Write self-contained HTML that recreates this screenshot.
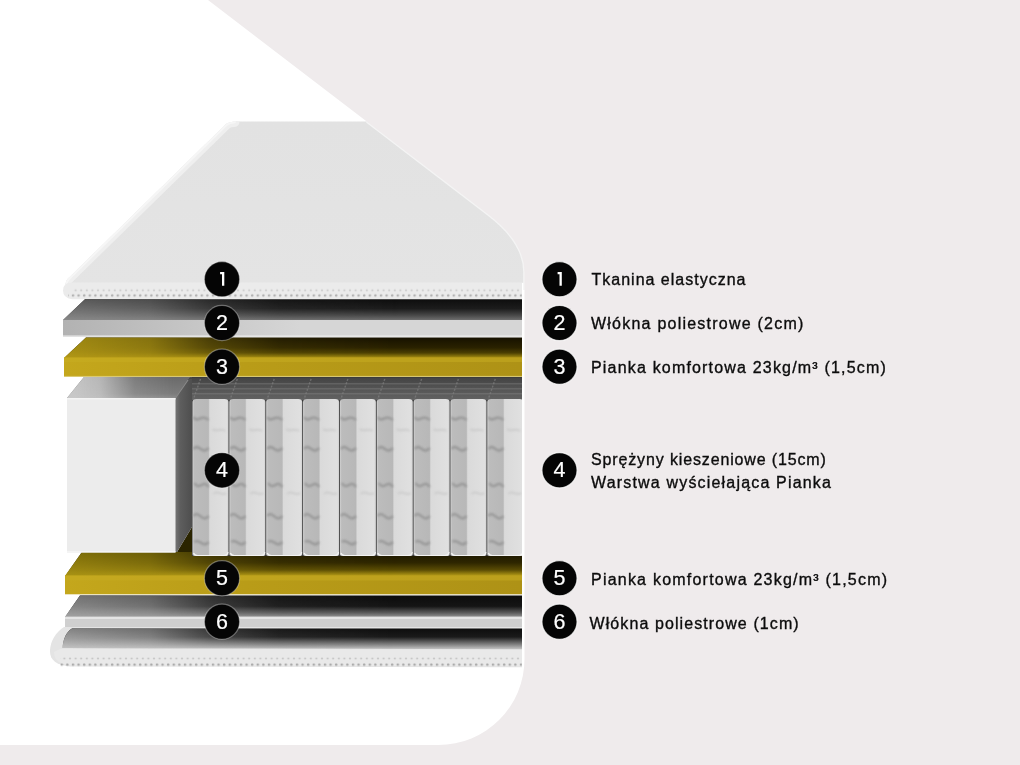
<!DOCTYPE html>
<html><head><meta charset="utf-8">
<style>
html,body{margin:0;padding:0;background:#fff;}
body{width:1020px;height:765px;overflow:hidden;}
svg{display:block;will-change:transform;}
.lbl{font-family:"Liberation Sans",sans-serif;font-size:16px;fill:#0c0c0c;stroke:#0c0c0c;stroke-width:0.35px;}
.num{font-family:"Liberation Sans",sans-serif;font-size:21.5px;fill:#fff;stroke:#fff;stroke-width:0.2px;text-anchor:middle;}
</style></head><body>
<svg width="1020" height="765" viewBox="0 0 1020 765">
<defs>
  <linearGradient id="fadeA" gradientUnits="userSpaceOnUse" x1="63" y1="0" x2="400" y2="0">
    <stop offset="0" stop-color="#fff"/><stop offset="0.26" stop-color="#fff" stop-opacity="0.8"/><stop offset="0.44" stop-color="#fff" stop-opacity="0.35"/><stop offset="0.64" stop-color="#fff" stop-opacity="0.1"/><stop offset="1" stop-color="#fff" stop-opacity="0"/>
  </linearGradient>
  <mask id="mA" maskUnits="userSpaceOnUse" x="0" y="0" width="1020" height="765">
    <rect x="0" y="0" width="1020" height="765" fill="url(#fadeA)"/>
  </mask>
  <linearGradient id="fadeB" gradientUnits="userSpaceOnUse" x1="75" y1="0" x2="175" y2="0">
    <stop offset="0" stop-color="#fff"/><stop offset="0.25" stop-color="#fff" stop-opacity="0.85"/><stop offset="0.6" stop-color="#fff" stop-opacity="0.2"/><stop offset="1" stop-color="#fff" stop-opacity="0"/>
  </linearGradient>
  <mask id="mB" maskUnits="userSpaceOnUse" x="0" y="0" width="1020" height="765">
    <rect x="0" y="0" width="1020" height="765" fill="url(#fadeB)"/>
  </mask>

  <linearGradient id="l1top" x1="0" y1="0" x2="0" y2="1">
    <stop offset="0" stop-color="#e2e2e2"/><stop offset="1" stop-color="#e4e4e4"/>
  </linearGradient>
  <linearGradient id="l2dark" x1="0" y1="0" x2="0" y2="1">
    <stop offset="0" stop-color="#0e0e0e"/><stop offset="0.45" stop-color="#1c1c1c"/><stop offset="0.8" stop-color="#4c4c4c"/><stop offset="1" stop-color="#6e6e6e"/>
  </linearGradient>
  <linearGradient id="l2light" x1="0" y1="0" x2="0" y2="1">
    <stop offset="0" stop-color="#5c5c5c"/><stop offset="1" stop-color="#888"/>
  </linearGradient>
  <linearGradient id="l2front" gradientUnits="userSpaceOnUse" x1="63" y1="0" x2="300" y2="0">
    <stop offset="0" stop-color="#b2b2b2"/><stop offset="1" stop-color="#d6d6d6"/>
  </linearGradient>
  <linearGradient id="l3dark" x1="0" y1="0" x2="0" y2="1">
    <stop offset="0" stop-color="#161100"/><stop offset="0.5" stop-color="#2a2200"/><stop offset="0.75" stop-color="#4a3e02"/><stop offset="0.92" stop-color="#8a760c"/><stop offset="1" stop-color="#b09616"/>
  </linearGradient>
  <linearGradient id="l3light" x1="0" y1="0" x2="0" y2="1">
    <stop offset="0" stop-color="#a08a12"/><stop offset="0.6" stop-color="#a89014"/><stop offset="1" stop-color="#b09616"/>
  </linearGradient>
  <linearGradient id="l5dark" x1="0" y1="0" x2="0" y2="1">
    <stop offset="0" stop-color="#1a1500"/><stop offset="0.45" stop-color="#2e2600"/><stop offset="0.75" stop-color="#5a4c04"/><stop offset="0.92" stop-color="#9a8410"/><stop offset="1" stop-color="#b89e1a"/>
  </linearGradient>
  <linearGradient id="l5light" x1="0" y1="0" x2="0" y2="1">
    <stop offset="0" stop-color="#807008"/><stop offset="0.6" stop-color="#968210"/><stop offset="1" stop-color="#a89214"/>
  </linearGradient>
  <linearGradient id="l6dark" x1="0" y1="0" x2="0" y2="1">
    <stop offset="0" stop-color="#0c0c0c"/><stop offset="0.5" stop-color="#151515"/><stop offset="0.8" stop-color="#5a5a5a"/><stop offset="1" stop-color="#929292"/>
  </linearGradient>
  <linearGradient id="l6light" x1="0" y1="0" x2="0" y2="1">
    <stop offset="0" stop-color="#767676"/><stop offset="0.5" stop-color="#888"/><stop offset="1" stop-color="#a2a2a2"/>
  </linearGradient>
  <linearGradient id="l7dark" x1="0" y1="0" x2="0" y2="1">
    <stop offset="0" stop-color="#0e0e0e"/><stop offset="0.4" stop-color="#1a1a1a"/><stop offset="0.75" stop-color="#7e7e7e"/><stop offset="1" stop-color="#c8c8c8"/>
  </linearGradient>
  <linearGradient id="l7light" x1="0" y1="0" x2="0" y2="1">
    <stop offset="0" stop-color="#848484"/><stop offset="0.5" stop-color="#a0a0a0"/><stop offset="1" stop-color="#c6c6c6"/>
  </linearGradient>
  <linearGradient id="fbtop" x1="0" y1="0" x2="0" y2="1">
    <stop offset="0" stop-color="#6a6a6a"/><stop offset="0.8" stop-color="#7c7c7c"/><stop offset="1" stop-color="#8e8e8e"/>
  </linearGradient>
  <linearGradient id="fbtopl" x1="0" y1="0" x2="0" y2="1">
    <stop offset="0" stop-color="#c4c4c4"/><stop offset="1" stop-color="#c8c8c8"/>
  </linearGradient>
  <linearGradient id="fbside" gradientUnits="userSpaceOnUse" x1="175" y1="0" x2="192" y2="0">
    <stop offset="0" stop-color="#767676"/><stop offset="0.3" stop-color="#5e5e5e"/><stop offset="1" stop-color="#4e4e4e"/>
  </linearGradient>
  <linearGradient id="sptop" x1="0" y1="0" x2="0" y2="1">
    <stop offset="0" stop-color="#444"/><stop offset="0.5" stop-color="#555"/><stop offset="1" stop-color="#626262"/>
  </linearGradient>
  <linearGradient id="spring" x1="0" y1="0" x2="1" y2="0">
    <stop offset="0" stop-color="#d2d2d2"/><stop offset="0.05" stop-color="#bcbcbc"/><stop offset="0.44" stop-color="#b8b8b8"/><stop offset="0.48" stop-color="#dadada"/><stop offset="0.95" stop-color="#e0e0e0"/><stop offset="1" stop-color="#d0d0d0"/>
  </linearGradient>
  <pattern id="dots" x="0" y="0" width="5.6" height="5.2" patternUnits="userSpaceOnUse">
    <circle cx="1.5" cy="1.2" r="1.1" fill="#b4b4b4"/>
    <circle cx="4.3" cy="3.8" r="1.2" fill="#a0a0a0"/>
  </pattern>
  <pattern id="dots2" x="0" y="0" width="5.6" height="5" patternUnits="userSpaceOnUse">
    <circle cx="2" cy="3" r="1" fill="#a4a4a4" opacity="0.7"/>
  </pattern>
  <pattern id="dotrowA" x="0" y="288.8" width="5.6" height="3" patternUnits="userSpaceOnUse">
    <ellipse cx="2.8" cy="1.4" rx="1.1" ry="1" fill="#b8b8b8" opacity="0.6"/>
  </pattern>
  <pattern id="dotrowB" x="0" y="293.8" width="5.6" height="3.4" patternUnits="userSpaceOnUse">
    <ellipse cx="0.2" cy="1.7" rx="1.3" ry="1.2" fill="#a2a2a2" opacity="0.8"/>
    <ellipse cx="5.8" cy="1.7" rx="1.3" ry="1.2" fill="#a2a2a2" opacity="0.8"/>
  </pattern>
  <pattern id="dotrowC" x="0" y="657" width="5.6" height="3" patternUnits="userSpaceOnUse">
    <ellipse cx="2.8" cy="1.5" rx="1.1" ry="1" fill="#b0b0b0" opacity="0.6"/>
  </pattern>
  <pattern id="dotrowD" x="0" y="663" width="5.6" height="3.4" patternUnits="userSpaceOnUse">
    <ellipse cx="0.2" cy="1.6" rx="1.3" ry="1.1" fill="#9a9a9a" opacity="0.8"/>
    <ellipse cx="5.8" cy="1.6" rx="1.3" ry="1.1" fill="#9a9a9a" opacity="0.8"/>
  </pattern>
  <linearGradient id="yel" gradientUnits="userSpaceOnUse" x1="64" y1="0" x2="520" y2="0">
    <stop offset="0" stop-color="#c4a71c"/><stop offset="0.4" stop-color="#b99c18"/><stop offset="1" stop-color="#ae9216"/>
  </linearGradient>
  <filter id="bl1" x="-20%" y="-20%" width="140%" height="140%"><feGaussianBlur stdDeviation="0.9"/></filter>
  <symbol id="col" overflow="visible">
    <path d="M0,3 Q0,0 4,0 L32,0 Q36,0 36,3 L36,155 Q36,157 33,157 L3,157 Q0,157 0,155 Z" fill="url(#spring)"/>
    <path d="M1,18 C5,25 9,14 16,21 M1,50 C6,43 10,57 16,49 M2,84 C7,93 11,79 16,88 M1,117 C6,110 10,125 16,117 M2,143 C6,138 11,150 16,143" stroke="#8c8c8c" stroke-width="2.4" fill="none" opacity="0.75" filter="url(#bl1)"/>
    <path d="M20,30 C24,34 28,28 33,32 M21,95 C25,90 29,98 34,94" stroke="#bbb" stroke-width="2" fill="none" opacity="0.5" filter="url(#bl1)"/>
    <path d="M1,154 Q2,156.5 5,156.5 L31,156.5 Q35,156.5 35.5,153" stroke="#f4f4f4" stroke-width="1.2" fill="none"/>
  </symbol>
</defs>

<!-- ===== Layer 1 top tkanina ===== -->
<clipPath id="l1clip"><path d="M72,290 Q62,286 67.5,279 L226,124 Q229.5,121.5 236,121.5 L600,121.5 L600,290 Z"/></clipPath>
<path d="M72,290 Q62,286 67.5,279 L226,124 Q229.5,121.5 236,121.5 L600,121.5 L600,290 Z" fill="url(#l1top)"/>
<path d="M62,290 L67.5,279 L226,124 Q229.5,121.5 234,121.5" stroke-linecap="round" stroke="#efefef" stroke-width="11" fill="none" clip-path="url(#l1clip)"/>
<path d="M62,290 L67.5,279 L226,124 Q229.5,121.5 234,121.5" stroke-linecap="round" stroke="#f6f6f6" stroke-width="4" fill="none" clip-path="url(#l1clip)"/>
<path d="M72,282.5 L600,282.5 L600,299.3 L72,299.3 Q63,298 63,290.5 Q63,282.5 72,282.5 Z" fill="#ebebeb"/>
<rect x="72" y="288.8" width="528" height="3" fill="url(#dotrowA)"/>
<rect x="68" y="293.8" width="532" height="3.4" fill="url(#dotrowB)"/>

<!-- ===== Layer 2 ===== -->
<path d="M85,299.3 L600,299.3 L600,320 L63,320 Z" fill="url(#l2dark)"/>
<path d="M85,299.3 L600,299.3 L600,320 L63,320 Z" fill="url(#l2light)" mask="url(#mA)"/>
<rect x="63" y="320" width="537" height="17" fill="url(#l2front)"/>
<rect x="63" y="335.5" width="537" height="1.3" fill="#ededed"/>

<!-- ===== Layer 3 ===== -->
<path d="M86,337.5 L600,337.5 L600,358 L64,358 Z" fill="url(#l3dark)"/>
<path d="M86,337.5 L600,337.5 L600,358 L64,358 Z" fill="url(#l3light)" mask="url(#mA)"/>
<rect x="64" y="357.5" width="536" height="19" fill="url(#yel)"/>
<rect x="64" y="357.5" width="536" height="4.5" fill="#c8ae22" opacity="0.5"/>

<!-- ===== Layer 5 top ===== -->
<path d="M82,552 L600,552 L600,576 L65,576 Z" fill="url(#l5dark)"/>
<path d="M82,552 L600,552 L600,576 L65,576 Z" fill="url(#l5light)" mask="url(#mA)"/>
<!-- ===== Layer 4 ===== -->
<rect x="176" y="377" width="424" height="150" fill="#4c4c4c"/>
<rect x="192" y="377" width="408" height="179" fill="#3c3c3c"/>
<path d="M192,527 L192,552 L177,552 Z" fill="#2a2400"/>
<rect x="188" y="378" width="412" height="22" fill="url(#sptop)"/>
<rect x="188" y="383" width="412" height="1.5" fill="#626262"/>
<rect x="188" y="388" width="412" height="1.5" fill="#666"/>
<rect x="188" y="393" width="412" height="1.5" fill="#6c6c6c"/>
<path d="M200.5,379 L193.5,399" stroke="#7e7e7e" stroke-width="1.4" stroke-dasharray="2 1.5" opacity="0.7"/>
<path d="M237.3,379 L230.3,399" stroke="#7e7e7e" stroke-width="1.4" stroke-dasharray="2 1.5" opacity="0.7"/>
<path d="M274.2,379 L267.2,399" stroke="#7e7e7e" stroke-width="1.4" stroke-dasharray="2 1.5" opacity="0.7"/>
<path d="M311.1,379 L304.1,399" stroke="#7e7e7e" stroke-width="1.4" stroke-dasharray="2 1.5" opacity="0.7"/>
<path d="M347.9,379 L340.9,399" stroke="#7e7e7e" stroke-width="1.4" stroke-dasharray="2 1.5" opacity="0.7"/>
<path d="M384.8,379 L377.8,399" stroke="#7e7e7e" stroke-width="1.4" stroke-dasharray="2 1.5" opacity="0.7"/>
<path d="M421.6,379 L414.6,399" stroke="#7e7e7e" stroke-width="1.4" stroke-dasharray="2 1.5" opacity="0.7"/>
<path d="M458.4,379 L451.4,399" stroke="#7e7e7e" stroke-width="1.4" stroke-dasharray="2 1.5" opacity="0.7"/>
<path d="M495.3,379 L488.3,399" stroke="#7e7e7e" stroke-width="1.4" stroke-dasharray="2 1.5" opacity="0.7"/>
<path d="M532.2,379 L525.2,399" stroke="#7e7e7e" stroke-width="1.4" stroke-dasharray="2 1.5" opacity="0.7"/>
<rect x="64" y="375.8" width="536" height="1.2" fill="#d6c560" opacity="0.6"/>
<!-- foam block -->
<path d="M84,377 L190,377 L176,398 L67,398 Z" fill="url(#fbtop)"/>
<path d="M84,377 L190,377 L176,398 L67,398 Z" fill="url(#fbtopl)" mask="url(#mB)"/>
<path d="M175,398 L188,379 L192,379 L192,527 L177,552 L175,552 Z" fill="url(#fbside)"/>
<path d="M175.5,398 L188,380" stroke="#8a8a8a" stroke-width="1.2"/>
<rect x="67" y="398" width="108.5" height="154.5" fill="#ececec"/>
<rect x="67" y="398" width="108.5" height="1.5" fill="#f4f4f4"/>
<rect x="67" y="551" width="108.5" height="1.5" fill="#f4f4f4"/>
<!-- springs -->
<use href="#col" x="192.50" y="399"/>
<use href="#col" x="229.35" y="399"/>
<use href="#col" x="266.20" y="399"/>
<use href="#col" x="303.05" y="399"/>
<use href="#col" x="339.90" y="399"/>
<use href="#col" x="376.75" y="399"/>
<use href="#col" x="413.60" y="399"/>
<use href="#col" x="450.45" y="399"/>
<use href="#col" x="487.30" y="399"/>

<!-- ===== Layer 5 front ===== -->
<rect x="65" y="575.5" width="535" height="18.8" fill="url(#yel)"/>
<rect x="65" y="575.5" width="535" height="5" fill="#c6ac22" opacity="0.55"/>

<!-- ===== Layer 6 ===== -->
<path d="M80,595.5 L600,595.5 L600,617 L65,617 Z" fill="url(#l6dark)"/>
<path d="M80,595.5 L600,595.5 L600,617 L65,617 Z" fill="url(#l6light)" mask="url(#mA)"/>
<rect x="65" y="616.5" width="535" height="10.5" fill="#cfcfcf"/>
<rect x="65" y="617" width="535" height="2" fill="#e4e4e4"/>

<!-- ===== Layer 7 bottom tkanina ===== -->
<path d="M64,627 C56,632 50.5,641 50,650 C49.5,660 56,665 70,666.5 L600,667.3 L600,627 Z" fill="#e4e4e4"/>
<path d="M72,628.5 C66,632 63,640 62.5,648 L600,649.5 L600,628.5 Z" fill="url(#l7dark)"/>
<path d="M72,628.5 C66,632 63,640 62.5,648 L600,649.5 L600,628.5 Z" fill="url(#l7light)" mask="url(#mA)"/>
<path d="M54,652 C54,660 60,665 72,665.5 L600,666.5 L600,650 L60,649 Z" fill="#e9e9e9"/>
<rect x="60" y="657" width="540" height="3" fill="url(#dotrowC)"/>
<rect x="60" y="663" width="540" height="3.4" fill="url(#dotrowD)"/>

<!-- ===== grey overlay ===== -->
<rect x="522" y="283" width="4" height="385" fill="#fff"/>
<path d="M366.8,121.5 L488,214.2 Q524.5,242 524.5,272 L524.5,290" stroke="#f4f4f4" stroke-width="2.6" fill="none"/>
<path d="M208,0 L1020,0 L1020,765 L0,765 L0,745 L438.5,745 A86,86 0 0 0 524.5,659 L524.5,272 Q524.5,242 488,214.2 Z" fill="#efebec"/>

<!-- ===== circles ===== -->
<g stroke="#fff" stroke-width="1.2" stroke-opacity="0.35" fill="#050505">
  <circle cx="222" cy="279.2" r="17.6"/>
  <circle cx="222" cy="323" r="17.6"/>
  <circle cx="222" cy="366.7" r="17.6"/>
  <circle cx="222" cy="470.3" r="17.6"/>
  <circle cx="222" cy="578.2" r="17.6"/>
  <circle cx="222" cy="621.7" r="17.6"/>
</g>
<g stroke="#fff" stroke-width="1.3" stroke-opacity="0.75" fill="#050505">
  <circle cx="559.5" cy="279.2" r="17.6"/>
  <circle cx="559.5" cy="323" r="17.6"/>
  <circle cx="559.5" cy="366.7" r="17.6"/>
  <circle cx="559.5" cy="470.3" r="17.6"/>
  <circle cx="559.5" cy="578.2" r="17.6"/>
  <circle cx="559.5" cy="621.7" r="17.6"/>
</g>
<g class="num">
  <text x="222" y="330.0">2</text>
  <text x="222" y="373.7">3</text>
  <text x="222" y="477.3">4</text>
  <text x="222" y="585.2">5</text>
  <text x="222" y="628.7">6</text>
  <text x="559.5" y="330.0">2</text>
  <text x="559.5" y="373.7">3</text>
  <text x="559.5" y="477.3">4</text>
  <text x="559.5" y="585.2">5</text>
  <text x="559.5" y="628.7">6</text>
</g>
<path d="M220.1,272 h4.2 v13.7 h-2.3 v-11.5 h-1.9 z" fill="#fff"/>
<path d="M557.6,272 h4.2 v13.7 h-2.3 v-11.5 h-1.9 z" fill="#fff"/>
<g class="lbl">
  <text x="591.5" y="284.8" letter-spacing="1.0">Tkanina elastyczna</text>
  <text x="591" y="328.6" letter-spacing="1.23">Włókna poliestrowe (2cm)</text>
  <text x="591" y="372.8" letter-spacing="1.18">Pianka komfortowa 23kg/m³ (1,5cm)</text>
  <text x="591" y="464.5" letter-spacing="0.86">Sprężyny kieszeniowe (15cm)</text>
  <text x="591" y="487.5" letter-spacing="1.18">Warstwa wyściełająca Pianka</text>
  <text x="591" y="584.7" letter-spacing="1.22">Pianka komfortowa 23kg/m³ (1,5cm)</text>
  <text x="589.5" y="629.2" letter-spacing="1.09">Włókna poliestrowe (1cm)</text>
</g>
</svg>
</body></html>
